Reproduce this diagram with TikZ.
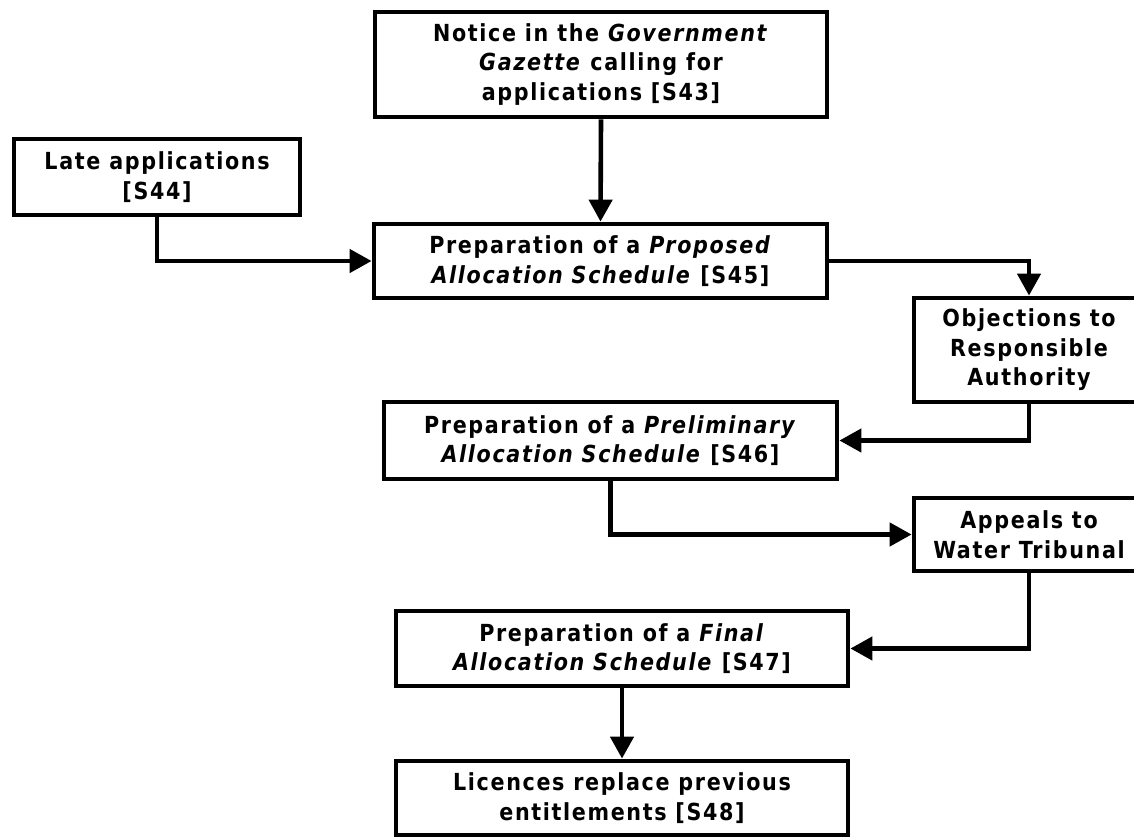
\documentclass[tikz,border=0pt]{standalone}
\usepackage{fontspec}
\setmainfont{DejaVu Sans}[LetterSpace=7,FakeStretch=0.88]
\usetikzlibrary{arrows.meta}
\begin{document}
\begin{tikzpicture}[x=1pt,y=-1pt,
  box/.style={draw, line width=4.8pt, align=center, inner sep=0pt,
    font=\fontsize{23.5}{29.5}\selectfont\bfseries},
  conn/.style={line width=4.6pt, -{Triangle[length=22pt,width=23pt]}}]
\useasboundingbox (0,0) rectangle (1134,838);
\clip (0,0) rectangle (1134,838);
\fill[white] (0,0) rectangle (1134,838);
\node[box, minimum width=452pt, minimum height=105pt] (b1) at (601,64.5)
  {Notice in the \textit{Government}\\ \textit{Gazette} calling for\\ applications [S43]};
\node[box, minimum width=286pt, minimum height=76pt] (b2) at (157,177)
  {Late applications\\ {[S44]}};
\node[box, minimum width=453pt, minimum height=74pt] (b3) at (600.5,261)
  {Preparation of a \textit{Proposed}\\ \textit{Allocation Schedule} [S45]};
\node[box, minimum width=230pt, minimum height=104pt] (b4) at (1029,350)
  {Objections to\\ Responsible\\ Authority};
\node[box, minimum width=453pt, minimum height=77pt] (b5) at (610.5,440.5)
  {Preparation of a \textit{Preliminary}\\ \textit{Allocation Schedule} [S46]};
\node[box, minimum width=230pt, minimum height=73pt] (b6) at (1029,534.5)
  {Appeals to\\ Water Tribunal};
\node[box, minimum width=452pt, minimum height=75pt] (b7) at (622,648.5)
  {Preparation of a \textit{Final}\\ \textit{Allocation Schedule} [S47]};
\node[box, minimum width=452pt, minimum height=74pt] (b8) at (622,798)
  {Licences replace previous\\ entitlements [S48]};
\draw[conn] (b1.south) -- (b3.north);
\draw[conn] (b2.south) |- (b3.west);
\draw[conn] (b3.east) -| (b4.north);
\draw[conn] (b4.south) |- (b5.east);
\draw[conn] (b5.south) |- (b6.west);
\draw[conn] (b6.south) |- (b7.east);
\draw[conn] (b7.south) -- (b8.north);
\end{tikzpicture}
\end{document}
